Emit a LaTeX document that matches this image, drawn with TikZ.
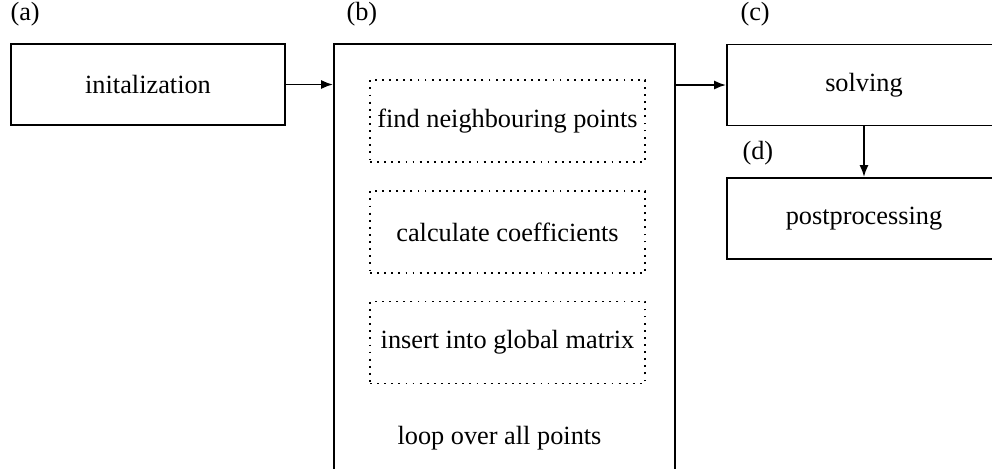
\documentclass[tikz,border=0pt]{standalone}
\usepackage{fontspec}
\setmainfont{Liberation Serif}
\usetikzlibrary{arrows.meta}
\begin{document}
\begin{tikzpicture}[x=0.38pt,y=-0.38pt,
  box/.style={draw,line width=0.7pt,inner sep=0pt,minimum width=104.12pt,minimum height=30.8pt,font=\fontsize{10pt}{12pt}\selectfont},
  subbox/.style={draw,dotted,line width=0.7pt,inner sep=0pt,minimum width=104.5pt,minimum height=31.16pt,font=\fontsize{10pt}{12pt}\selectfont},
  lbl/.style={anchor=west,inner sep=0pt,font=\fontsize{10pt}{12pt}\selectfont},
  arr/.style={-{Latex[length=4.5pt,width=3.4pt]},line width=0.7pt}]
\useasboundingbox (0,0) rectangle (992,468);
\clip (0,0) rectangle (992,468);
\node[box] (a) at (148,84.5) {initalization};
\node[box,minimum width=129.58pt,minimum height=180.88pt] (b) at (504.5,282) {};
\node[box] (c) at (864,85) {solving};
\node[box] (d) at (864,218.5) {postprocessing};
\node[subbox] (b1) at (507.5,121) {find neighbouring points};
\node[subbox] (b2) at (507.5,232) {calculate coefficients};
\node[subbox] (b3) at (507.5,342.5) {insert into global matrix};
\node[lbl] (loop) at (397,438) {loop over all points};
\node[lbl] (la) at (10,14) {(a)};
\node[lbl] (lb) at (346,14) {(b)};
\node[lbl] (lc) at (740,14) {(c)};
\node[lbl] (ld) at (742,153) {(d)};
\draw[arr] (a.east) -- (a.east -| b.west);
\draw[arr] (c.west -| b.east) -- (c.west);
\draw[arr] (c.south) -- (d.north);
\end{tikzpicture}
\end{document}
